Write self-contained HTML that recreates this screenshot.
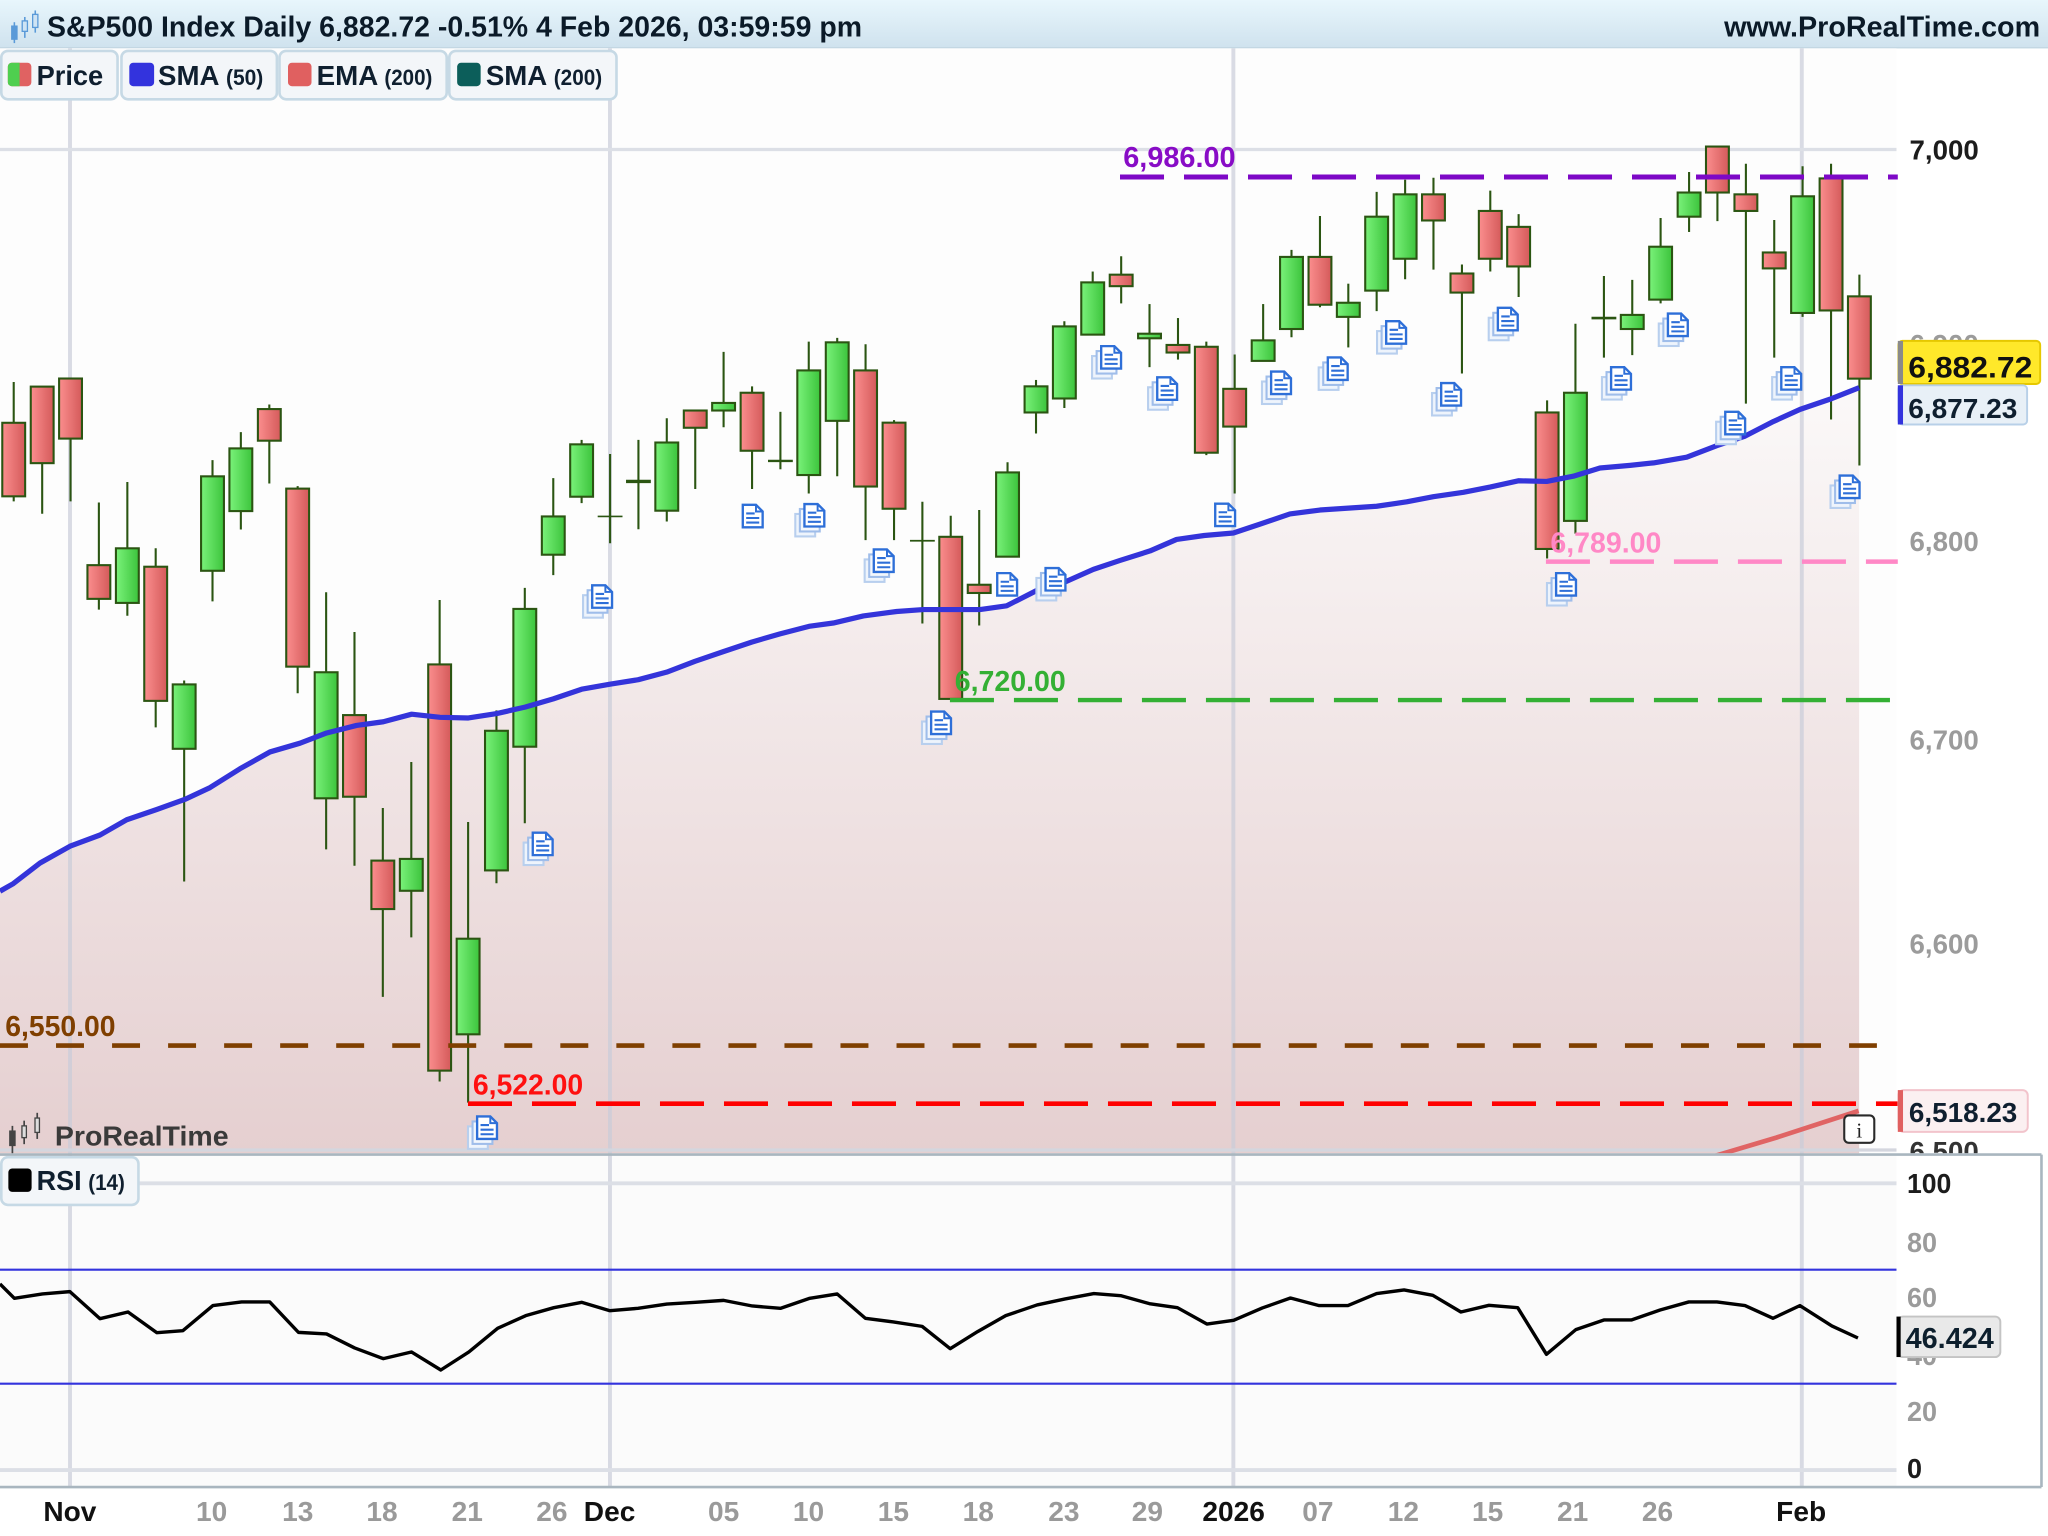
<!DOCTYPE html>
<html><head><meta charset="utf-8">
<style>
html,body{margin:0;padding:0;background:#fff;width:2048px;height:1536px;overflow:hidden}
svg{display:block}
text{font-family:"Liberation Sans",Arial,sans-serif;font-weight:bold}
.w{stroke:#2b5512;stroke-width:1.6}
.g{fill:url(#gg);stroke:#2b5512;stroke-width:1.6}
.r{fill:url(#gr);stroke:#2b5512;stroke-width:1.6}
.d{stroke:#2b5512;stroke-width:1.8}
.ax{font-size:21px;fill:#9b9b9b}
.axd{font-size:21px;fill:#1c1c1c}
.dt{font-size:21.5px;fill:#9a9a9a}
.dm{font-size:21.5px;fill:#111}
</style></head>
<body>
<svg width="2048" height="1536" viewBox="0 0 1568 1176" xmlns="http://www.w3.org/2000/svg">
<defs>
<linearGradient id="hdr" x1="0" y1="0" x2="0" y2="1"><stop offset="0" stop-color="#e8f6fc"/><stop offset="1" stop-color="#cfe2ee"/></linearGradient>
<linearGradient id="gg" x1="0" y1="0" x2="1" y2="0"><stop offset="0" stop-color="#7af27a"/><stop offset="1" stop-color="#3cc43c"/></linearGradient>
<linearGradient id="gr" x1="0" y1="0" x2="1" y2="0"><stop offset="0" stop-color="#fb8e8e"/><stop offset="1" stop-color="#d45a5a"/></linearGradient>
<linearGradient id="fillg" gradientUnits="userSpaceOnUse" x1="0" y1="290" x2="0" y2="883"><stop offset="0" stop-color="#fbf9f9"/><stop offset="1" stop-color="#e5cfd0"/></linearGradient>
<clipPath id="pc"><rect x="0" y="0" width="1568" height="883"/></clipPath>
<g id="doc1">
<path d="M0.9,0.9 H11 L16.1,6 V18.1 H0.9 Z" fill="#fff" stroke="#2e6fd8" stroke-width="1.8"/>
<path d="M11,0.9 V6 H16.1" fill="none" stroke="#2e6fd8" stroke-width="1.5"/>
<path d="M3.5,7.5 H10 M3.5,11 H13.5 M3.5,14.5 H13.5" stroke="#2e6fd8" stroke-width="1.6"/>
</g>
<g id="doc">
<rect x="-6.1" y="8.5" width="15.2" height="17.2" fill="#eef4fc" stroke="#b8cfee" stroke-width="1.6"/>
<rect x="-2.6" y="4.7" width="15.2" height="17.2" fill="#f2f7fd" stroke="#9fbdea" stroke-width="1.6"/>
<use href="#doc1"/>
</g>
</defs>

<rect x="0" y="0" width="1568" height="1176" fill="#fff"/>

<!-- header -->
<rect x="0" y="0" width="1568" height="37" fill="url(#hdr)"/>
<line x1="0" y1="36.5" x2="1568" y2="36.5" stroke="#c3d7e3" stroke-width="1"/>
<g fill="#5a9ad8" stroke="#5a9ad8">
<line x1="11" y1="17" x2="11" y2="33" stroke-width="1.2"/><rect x="9" y="20" width="4" height="10"/>
<line x1="19" y1="13" x2="19" y2="29" stroke-width="1.2"/><rect x="17" y="16" width="4" height="8" fill="#cfe4f4"/>
<line x1="27" y1="8" x2="27" y2="25" stroke-width="1.2"/><rect x="25" y="11" width="4" height="10" fill="#cfe4f4"/>
</g>
<text x="36" y="28" font-size="22" fill="#0b1a28" textLength="624" lengthAdjust="spacingAndGlyphs">S&amp;P500 Index Daily 6,882.72 -0.51% 4 Feb 2026, 03:59:59 pm</text>
<text x="1320" y="28" font-size="22" fill="#0b1a28" textLength="242" lengthAdjust="spacingAndGlyphs">www.ProRealTime.com</text>

<!-- price panel background -->
<rect x="0" y="37" width="1452" height="846" fill="#fdfdfd"/>
<!-- SMA fill -->
<polygon fill="url(#fillg)" points="0,682.3 10.2,676.5 30.6,660.8 53.6,647.9 76.6,639.3 97,627.6 120,619.8 141.6,612 160.8,603 183.7,588.6 206.7,575.7 229.7,569 250.1,561.2 273,555.4 293.5,552.6 315.2,546.8 336.9,549.2 358.6,549.7 380.3,546.3 402,541.4 423.6,535.1 445.3,527.7 467,523.8 488.7,520.4 510.4,514.6 532.1,506.3 553.8,498.9 575.5,491.6 597.2,485.3 620.1,479.4 638,477 661,471.6 686.5,468.2 706.9,466.7 727.3,466.7 750.3,466.7 770.7,463.8 793.7,452.1 814.1,446.2 837.1,435.9 857.5,429.1 880.5,421.8 900.8,413 922,410 944.3,408.1 964.7,401.3 987.6,393.5 1010.6,390.5 1054,387.6 1077,384.2 1097.4,380.3 1120.4,376.9 1140.8,372.9 1162.5,368.1 1184.2,368.6 1204.6,364.6 1225,358.3 1248,356.3 1266,354.4 1291.4,350 1314.4,341.2 1336.1,333.9 1357.8,322.7 1378.2,313.4 1401.2,305.6 1423.4,296.8 1423.4,883 0,883"/>

<!-- gridlines -->
<g stroke="#c9ccd8" stroke-opacity="0.7" stroke-width="3">
<line x1="53.6" y1="37" x2="53.6" y2="1138"/>
<line x1="467" y1="37" x2="467" y2="1138"/>
<line x1="944.3" y1="37" x2="944.3" y2="1138"/>
<line x1="1379.5" y1="37" x2="1379.5" y2="1138"/>
</g>
<line x1="0" y1="114.5" x2="1452" y2="114.5" stroke="#dcdfe6" stroke-width="2.5"/>
<line x1="0" y1="880.5" x2="1452" y2="880.5" stroke="#d4d6de" stroke-width="2.5"/>

<!-- candles -->
<g>
<line class="w" x1="10.5" y1="292.5" x2="10.5" y2="383.9"/><rect class="r" x="1.75" y="323.7" width="17.5" height="56.3"/>
<line class="w" x1="32.3" y1="296" x2="32.3" y2="393.3"/><rect class="r" x="23.55" y="296" width="17.5" height="58.6"/>
<line class="w" x1="54" y1="289.8" x2="54" y2="383.9"/><rect class="r" x="45.25" y="289.8" width="17.5" height="46"/>
<line class="w" x1="75.7" y1="384.7" x2="75.7" y2="466.7"/><rect class="r" x="66.95" y="432.7" width="17.5" height="25.8"/>
<line class="w" x1="97.5" y1="369" x2="97.5" y2="471.4"/><rect class="g" x="88.75" y="419.8" width="17.5" height="41.8"/>
<line class="w" x1="119.2" y1="419.8" x2="119.2" y2="556.9"/><rect class="r" x="110.45" y="433.9" width="17.5" height="102.7"/>
<line class="w" x1="141" y1="521" x2="141" y2="674.9"/><rect class="g" x="132.25" y="524" width="17.5" height="49.3"/>
<line class="w" x1="162.7" y1="352.3" x2="162.7" y2="460.4"/><rect class="g" x="153.95" y="364.7" width="17.5" height="72.3"/>
<line class="w" x1="184.4" y1="330.8" x2="184.4" y2="405.4"/><rect class="g" x="175.65" y="343.3" width="17.5" height="48"/>
<line class="w" x1="206.2" y1="309.7" x2="206.2" y2="370.2"/><rect class="r" x="197.45" y="313.2" width="17.5" height="24.2"/>
<line class="w" x1="227.9" y1="372.2" x2="227.9" y2="530.8"/><rect class="r" x="219.15" y="374.1" width="17.5" height="136.3"/>
<line class="w" x1="249.7" y1="453.4" x2="249.7" y2="650.3"/><rect class="g" x="240.95" y="514.7" width="17.5" height="96.5"/>
<line class="w" x1="271.4" y1="483.9" x2="271.4" y2="662.8"/><rect class="r" x="262.65" y="547.5" width="17.5" height="62.5"/>
<line class="w" x1="293.1" y1="618.6" x2="293.1" y2="763.2"/><rect class="r" x="284.35" y="658.9" width="17.5" height="37.1"/>
<line class="w" x1="314.9" y1="583.4" x2="314.9" y2="717.7"/><rect class="g" x="306.15" y="657.6" width="17.5" height="24.4"/>
<line class="w" x1="336.6" y1="459.4" x2="336.6" y2="828"/><rect class="r" x="327.85" y="508.7" width="17.5" height="311"/>
<line class="w" x1="358.4" y1="629.3" x2="358.4" y2="844.2"/><rect class="g" x="349.65" y="718.7" width="17.5" height="73.2"/>
<line class="w" x1="380.1" y1="543.9" x2="380.1" y2="676.2"/><rect class="g" x="371.35" y="559.5" width="17.5" height="106.9"/>
<line class="w" x1="401.8" y1="450.1" x2="401.8" y2="630.3"/><rect class="g" x="393.05" y="466.2" width="17.5" height="105.5"/>
<line class="w" x1="423.6" y1="366.1" x2="423.6" y2="440.3"/><rect class="g" x="414.85" y="395.4" width="17.5" height="29.3"/>
<line class="w" x1="445.3" y1="336.8" x2="445.3" y2="385.2"/><rect class="g" x="436.55" y="340.2" width="17.5" height="40.1"/>
<line class="w" x1="467.1" y1="347.6" x2="467.1" y2="415.9"/><line class="d" x1="457.6" y1="395.4" x2="476.6" y2="395.4" style="stroke-width:1.3"/>
<line class="w" x1="488.8" y1="336.8" x2="488.8" y2="405.2"/><line class="d" x1="479.3" y1="368.6" x2="498.3" y2="368.6" style="stroke-width:2.6"/>
<line class="w" x1="510.5" y1="320.2" x2="510.5" y2="399.3"/><rect class="g" x="501.75" y="338.8" width="17.5" height="52.2"/>
<line class="w" x1="532.3" y1="314.3" x2="532.3" y2="374.4"/><rect class="r" x="523.55" y="314.3" width="17.5" height="13.2"/>
<line class="w" x1="554" y1="269.4" x2="554" y2="327.1"/><rect class="g" x="545.25" y="308.5" width="17.5" height="5.8"/>
<line class="w" x1="575.8" y1="295.8" x2="575.8" y2="374.4"/><rect class="r" x="567.05" y="300.7" width="17.5" height="44.4"/>
<line class="w" x1="597.5" y1="315.3" x2="597.5" y2="359.3"/><line class="d" x1="588" y1="352.9" x2="607" y2="352.9" style="stroke-width:1.8"/>
<line class="w" x1="619.2" y1="261.6" x2="619.2" y2="377.8"/><rect class="g" x="610.45" y="283.6" width="17.5" height="80.1"/>
<line class="w" x1="641" y1="258.7" x2="641" y2="364.6"/><rect class="g" x="632.25" y="262.1" width="17.5" height="60.1"/>
<line class="w" x1="662.7" y1="263.6" x2="662.7" y2="413.5"/><rect class="r" x="653.95" y="283.6" width="17.5" height="88.9"/>
<line class="w" x1="684.5" y1="321.7" x2="684.5" y2="413.5"/><rect class="r" x="675.75" y="323.6" width="17.5" height="65.9"/>
<line class="w" x1="706.2" y1="384.2" x2="706.2" y2="477.4"/><line class="d" x1="696.7" y1="414" x2="715.7" y2="414" style="stroke-width:1.4"/>
<line class="w" x1="727.9" y1="394.9" x2="727.9" y2="535.1"/><rect class="r" x="719.15" y="411" width="17.5" height="124.1"/>
<line class="w" x1="749.7" y1="390.5" x2="749.7" y2="478.9"/><rect class="r" x="740.95" y="447.7" width="17.5" height="6.3"/>
<line class="w" x1="771.4" y1="353.9" x2="771.4" y2="426.2"/><rect class="g" x="762.65" y="361.7" width="17.5" height="64.5"/>
<line class="w" x1="793.2" y1="290.9" x2="793.2" y2="331.9"/><rect class="g" x="784.45" y="295.8" width="17.5" height="20"/>
<line class="w" x1="814.9" y1="246" x2="814.9" y2="312.4"/><rect class="g" x="806.15" y="249.9" width="17.5" height="55.2"/>
<line class="w" x1="836.6" y1="207.9" x2="836.6" y2="256.2"/><rect class="g" x="827.85" y="216.2" width="17.5" height="40"/>
<line class="w" x1="858.4" y1="196.2" x2="858.4" y2="232.3"/><rect class="r" x="849.65" y="210.3" width="17.5" height="8.8"/>
<line class="w" x1="880.1" y1="232.8" x2="880.1" y2="281.1"/><rect class="g" x="871.35" y="255.5" width="17.5" height="3.5"/>
<line class="w" x1="901.9" y1="243.5" x2="901.9" y2="275.3"/><rect class="r" x="893.15" y="264.1" width="17.5" height="5.8"/>
<line class="w" x1="923.6" y1="261.6" x2="923.6" y2="348.5"/><rect class="r" x="914.85" y="265.5" width="17.5" height="81.1"/>
<line class="w" x1="945.3" y1="271.4" x2="945.3" y2="377.8"/><rect class="r" x="936.55" y="297.7" width="17.5" height="28.9"/>
<line class="w" x1="967.1" y1="232.8" x2="967.1" y2="276.3"/><rect class="g" x="958.35" y="260.6" width="17.5" height="15.7"/>
<line class="w" x1="988.8" y1="191.3" x2="988.8" y2="258.2"/><rect class="g" x="980.05" y="196.7" width="17.5" height="55.2"/>
<line class="w" x1="1010.6" y1="165.4" x2="1010.6" y2="235.2"/><rect class="r" x="1001.85" y="196.7" width="17.5" height="36.6"/>
<line class="w" x1="1032.3" y1="217.2" x2="1032.3" y2="266"/><rect class="g" x="1023.55" y="231.8" width="17.5" height="10.8"/>
<line class="w" x1="1054" y1="146.9" x2="1054" y2="238.2"/><rect class="g" x="1045.25" y="165.9" width="17.5" height="56.6"/>
<line class="w" x1="1075.8" y1="137.6" x2="1075.8" y2="213.8"/><rect class="g" x="1067.05" y="148.8" width="17.5" height="49.3"/>
<line class="w" x1="1097.5" y1="136.1" x2="1097.5" y2="206.4"/><rect class="r" x="1088.75" y="148.8" width="17.5" height="20"/>
<line class="w" x1="1119.3" y1="202.5" x2="1119.3" y2="286"/><rect class="r" x="1110.55" y="209.4" width="17.5" height="14.6"/>
<line class="w" x1="1141" y1="145.9" x2="1141" y2="207.9"/><rect class="r" x="1132.25" y="161.5" width="17.5" height="36.6"/>
<line class="w" x1="1162.7" y1="163.9" x2="1162.7" y2="227.4"/><rect class="r" x="1153.95" y="173.7" width="17.5" height="30.3"/>
<line class="w" x1="1184.5" y1="306.5" x2="1184.5" y2="427.6"/><rect class="r" x="1175.75" y="315.8" width="17.5" height="104.5"/>
<line class="w" x1="1206.2" y1="247.9" x2="1206.2" y2="408.6"/><rect class="g" x="1197.45" y="300.7" width="17.5" height="98.1"/>
<line class="w" x1="1228" y1="211.3" x2="1228" y2="273.8"/><line class="d" x1="1218.5" y1="243.5" x2="1237.5" y2="243.5" style="stroke-width:2"/>
<line class="w" x1="1249.7" y1="214.3" x2="1249.7" y2="271.9"/><rect class="g" x="1240.95" y="241.1" width="17.5" height="10.8"/>
<line class="w" x1="1271.4" y1="166.9" x2="1271.4" y2="232.3"/><rect class="g" x="1262.65" y="188.9" width="17.5" height="40.5"/>
<line class="w" x1="1293.2" y1="131.7" x2="1293.2" y2="177.6"/><rect class="g" x="1284.45" y="147.4" width="17.5" height="18.5"/>
<line class="w" x1="1314.9" y1="112.2" x2="1314.9" y2="169.3"/><rect class="r" x="1306.15" y="112.2" width="17.5" height="35.2"/>
<line class="w" x1="1336.7" y1="125.4" x2="1336.7" y2="309"/><rect class="r" x="1327.95" y="148.8" width="17.5" height="12.7"/>
<line class="w" x1="1358.4" y1="168.4" x2="1358.4" y2="273.8"/><rect class="r" x="1349.65" y="193.3" width="17.5" height="12.2"/>
<line class="w" x1="1380.1" y1="127.3" x2="1380.1" y2="242.6"/><rect class="g" x="1371.35" y="150.3" width="17.5" height="89.3"/>
<line class="w" x1="1401.9" y1="125.4" x2="1401.9" y2="321.2"/><rect class="r" x="1393.15" y="136.6" width="17.5" height="101.1"/>
<line class="w" x1="1423.6" y1="210.3" x2="1423.6" y2="356.4"/><rect class="r" x="1414.85" y="226.9" width="17.5" height="63"/>
</g>

<!-- EMA 200 -->
<polyline clip-path="url(#pc)" points="1313,885 1360,871 1423,850.5" fill="none" stroke="#e06464" stroke-width="3.6"/>

<!-- SMA 50 line -->
<polyline fill="none" stroke="#3434da" stroke-width="4" stroke-linejoin="round" points="0,682.3 10.2,676.5 30.6,660.8 53.6,647.9 76.6,639.3 97,627.6 120,619.8 141.6,612 160.8,603 183.7,588.6 206.7,575.7 229.7,569 250.1,561.2 273,555.4 293.5,552.6 315.2,546.8 336.9,549.2 358.6,549.7 380.3,546.3 402,541.4 423.6,535.1 445.3,527.7 467,523.8 488.7,520.4 510.4,514.6 532.1,506.3 553.8,498.9 575.5,491.6 597.2,485.3 620.1,479.4 638,477 661,471.6 686.5,468.2 706.9,466.7 727.3,466.7 750.3,466.7 770.7,463.8 793.7,452.1 814.1,446.2 837.1,435.9 857.5,429.1 880.5,421.8 900.8,413 922,410 944.3,408.1 964.7,401.3 987.6,393.5 1010.6,390.5 1054,387.6 1077,384.2 1097.4,380.3 1120.4,376.9 1140.8,372.9 1162.5,368.1 1184.2,368.6 1204.6,364.6 1225,358.3 1248,356.3 1266,354.4 1291.4,350 1314.4,341.2 1336.1,333.9 1357.8,322.7 1378.2,313.4 1401.2,305.6 1423.4,296.8"/>

<!-- dashed horizontal levels -->
<line x1="0" y1="800.5" x2="1437" y2="800.5" stroke="#7f3f00" stroke-width="3.6" stroke-dasharray="21.4 21.5"/>
<line x1="358.3" y1="845" x2="1453" y2="845" stroke="#ff0000" stroke-width="3.6" stroke-dasharray="33.7 15.3"/>
<line x1="727.3" y1="536" x2="1447" y2="536" stroke="#34b034" stroke-width="3.4" stroke-dasharray="33.7 15.3"/>
<line x1="1183.6" y1="430" x2="1453" y2="430" stroke="#ff88c6" stroke-width="3.4" stroke-dasharray="33.7 15.3"/>
<line x1="857.5" y1="135.5" x2="1453" y2="135.5" stroke="#7d08c6" stroke-width="3.8" stroke-dasharray="33.7 15.3"/>

<text x="860" y="128" font-size="22" fill="#880cc6" textLength="86" lengthAdjust="spacingAndGlyphs">6,986.00</text>
<text x="1187" y="423" font-size="22" fill="#ff88c6" textLength="85" lengthAdjust="spacingAndGlyphs">6,789.00</text>
<text x="731" y="529" font-size="22" fill="#34b034" textLength="85" lengthAdjust="spacingAndGlyphs">6,720.00</text>
<text x="4" y="793" font-size="22" fill="#7f3f00" textLength="84.5" lengthAdjust="spacingAndGlyphs">6,550.00</text>
<text x="362" y="838" font-size="22" fill="#ff1010" textLength="84.5" lengthAdjust="spacingAndGlyphs">6,522.00</text>

<!-- note icons -->
<use href="#doc" x="452.5" y="447.2"/>
<use href="#doc" x="407" y="636.6"/>
<use href="#doc" x="364.4" y="853.9"/>
<use href="#doc1" x="567.8" y="385.6"/>
<use href="#doc" x="615" y="385"/>
<use href="#doc" x="668.1" y="419.8"/>
<use href="#doc" x="712" y="543.9"/>
<use href="#doc1" x="762.6" y="437.9"/>
<use href="#doc" x="799.6" y="434"/>
<use href="#doc" x="842.2" y="264.1"/>
<use href="#doc" x="885.1" y="288"/>
<use href="#doc1" x="929.5" y="384.7"/>
<use href="#doc" x="972.3" y="283.6"/>
<use href="#doc" x="1015.7" y="272.8"/>
<use href="#doc" x="1060.4" y="245"/>
<use href="#doc" x="1102.5" y="292.4"/>
<use href="#doc" x="1145.9" y="234.8"/>
<use href="#doc" x="1190.5" y="437.9"/>
<use href="#doc" x="1232.6" y="280.2"/>
<use href="#doc" x="1276.1" y="239.2"/>
<use href="#doc" x="1320" y="314.4"/>
<use href="#doc" x="1362.9" y="280.2"/>
<use href="#doc" x="1407.6" y="363.2"/>

<!-- info box -->
<rect x="1412" y="854" width="23" height="21" rx="3.5" fill="#fff" stroke="#2a2a2a" stroke-width="1.6"/>
<text x="1423.5" y="871" font-size="16" fill="#222" text-anchor="middle" style="font-family:'Liberation Serif',serif;font-weight:normal">i</text>

<!-- watermark -->
<g fill="#444" stroke="#444">
<line x1="9.5" y1="862" x2="9.5" y2="883" stroke-width="1.3"/><rect x="7.5" y="866" width="4" height="11"/>
<line x1="18.5" y1="858" x2="18.5" y2="876" stroke-width="1.3"/><rect x="16.8" y="862" width="3.4" height="9" fill="#ddd"/>
<line x1="28.5" y1="852" x2="28.5" y2="872" stroke-width="1.3"/><rect x="26.8" y="856" width="3.4" height="11" fill="#ddd"/>
</g>
<text x="42" y="877" font-size="21" fill="#3a3a3a" textLength="133" lengthAdjust="spacingAndGlyphs">ProRealTime</text>

<!-- legend -->
<g stroke="#c6d9e5" stroke-width="2" fill="#f3f6f9">
<rect x="1" y="39" width="89" height="37" rx="5"/>
<rect x="93" y="39" width="119" height="37" rx="5"/>
<rect x="214" y="39" width="128" height="37" rx="5"/>
<rect x="344" y="39" width="128" height="37" rx="5"/>
</g>
<rect x="6" y="48" width="18" height="18" rx="3" fill="#e06262"/>
<path d="M9,48 H15 V66 H9 A3,3 0 0 1 6,63 V51 A3,3 0 0 1 9,48 Z" fill="#4fcf4f"/>
<rect x="99" y="48" width="19" height="18" rx="3" fill="#3333dd"/>
<rect x="220.5" y="48" width="18" height="18" rx="3" fill="#e06060"/>
<rect x="350" y="48" width="18" height="18" rx="3" fill="#0c5e5a"/>
<g fill="#0f1f2f">
<text x="28" y="65" font-size="21" textLength="51" lengthAdjust="spacingAndGlyphs">Price</text>
<text x="121" y="65" font-size="21" textLength="47" lengthAdjust="spacingAndGlyphs">SMA</text>
<text x="173" y="65" font-size="17" textLength="28.6" lengthAdjust="spacingAndGlyphs">(50)</text>
<text x="242.4" y="65" font-size="21" textLength="47.2" lengthAdjust="spacingAndGlyphs">EMA</text>
<text x="294.3" y="65" font-size="17" textLength="36.7" lengthAdjust="spacingAndGlyphs">(200)</text>
<text x="372" y="65" font-size="21" textLength="47" lengthAdjust="spacingAndGlyphs">SMA</text>
<text x="424" y="65" font-size="17" textLength="37" lengthAdjust="spacingAndGlyphs">(200)</text>
</g>

<!-- right price axis -->
<text class="axd" x="1462" y="122" textLength="53" lengthAdjust="spacingAndGlyphs">7,000</text>
<text class="ax" x="1462" y="271" textLength="53" lengthAdjust="spacingAndGlyphs">6,900</text>
<text class="ax" x="1462" y="422" textLength="53" lengthAdjust="spacingAndGlyphs">6,800</text>
<text class="ax" x="1462" y="574" textLength="53" lengthAdjust="spacingAndGlyphs">6,700</text>
<text class="ax" x="1462" y="730" textLength="53" lengthAdjust="spacingAndGlyphs">6,600</text>
<text class="axd" x="1462" y="889" textLength="53" lengthAdjust="spacingAndGlyphs" clip-path="url(#pc)" style="fill:#333">6,500</text>

<rect x="1453.5" y="261" width="108.5" height="33" rx="3" fill="#ffe82a" stroke="#e6c800" stroke-width="1.5"/>
<rect x="1453" y="261" width="4" height="33" fill="#8a8a8a"/>
<text x="1461" y="289" font-size="23" fill="#111" textLength="95" lengthAdjust="spacingAndGlyphs">6,882.72</text>

<rect x="1453.5" y="295" width="98.5" height="30" rx="3" fill="#e8f0f7" stroke="#b8d0e8" stroke-width="1.5"/>
<rect x="1453" y="295" width="4" height="30" fill="#3333dd"/>
<text x="1461" y="320" font-size="21" fill="#0f1f2f" textLength="83.5" lengthAdjust="spacingAndGlyphs">6,877.23</text>

<rect x="1453.5" y="834.6" width="99" height="32" rx="4" fill="#fbf0f1" stroke="#f2c4cc" stroke-width="1.5"/>
<rect x="1453" y="834.6" width="4" height="32" fill="#e06060"/>
<text x="1461.5" y="859" font-size="21" fill="#0f1f2f" textLength="83" lengthAdjust="spacingAndGlyphs">6,518.23</text>

<!-- RSI panel -->
<rect x="0" y="885" width="1452" height="253" fill="#fbfbfb"/>
<g stroke="#c9ccd8" stroke-opacity="0.7" stroke-width="3">
<line x1="53.6" y1="885" x2="53.6" y2="1138"/>
<line x1="467" y1="885" x2="467" y2="1138"/>
<line x1="944.3" y1="885" x2="944.3" y2="1138"/>
<line x1="1379.5" y1="885" x2="1379.5" y2="1138"/>
</g>
<line x1="0" y1="906" x2="1452" y2="906" stroke="#dcdfe6" stroke-width="3"/>
<line x1="0" y1="1125.5" x2="1452" y2="1125.5" stroke="#dcdfe6" stroke-width="3"/>
<line x1="0" y1="972.1" x2="1452" y2="972.1" stroke="#3333dd" stroke-width="1.6"/>
<line x1="0" y1="1059.4" x2="1452" y2="1059.4" stroke="#3333dd" stroke-width="1.6"/>
<polyline fill="none" stroke="#000" stroke-width="2.6" stroke-linejoin="round" points="0,983 11,994 32.5,990.7 53.5,988.9 76.5,1009.6 98,1004.5 120,1020.3 140,1018.8 163,999.6 185,996.8 206.5,996.8 228.5,1020.1 250,1021.3 271.5,1032 293.5,1040.2 315,1035.1 337.5,1048.9 359,1035.1 381,1017 402.5,1007.3 424,1001.2 445.5,997.1 467,1003.5 488.5,1001.7 510.5,998.4 532.5,997.1 554,995.6 576,999.9 597.5,1001.7 620,994 641,990.7 662.5,1009.3 684,1012.1 706,1015.5 727.5,1032.6 748.5,1019.5 770,1007.3 794,999.1 815.5,994.5 837.5,990.4 858,992 880,998.1 901.5,1001.2 924,1013.7 944.5,1010.9 966.5,1001.4 988,993.8 1010,999.6 1032,999.6 1054,990.4 1075,987.6 1097,991.7 1118.5,1004.5 1140,999.4 1162,1001.2 1184,1036.9 1206.5,1018 1228,1010.6 1249,1010.6 1271,1003 1293,996.8 1314.5,996.8 1336,999.6 1357.5,1009.3 1378,999.6 1402.5,1015.2 1422.5,1024.4"/>

<!-- RSI legend -->
<rect x="1" y="886" width="105" height="36.5" rx="5" fill="#f3f6f9" stroke="#c6d9e5" stroke-width="2"/>
<rect x="6.4" y="894.6" width="17.8" height="17.9" rx="3" fill="#000"/>
<text x="28" y="911" font-size="21" fill="#0f1f2f" textLength="34.5" lengthAdjust="spacingAndGlyphs">RSI</text>
<text x="67.6" y="911" font-size="17" fill="#0f1f2f" textLength="28" lengthAdjust="spacingAndGlyphs">(14)</text>

<!-- RSI axis -->
<text class="axd" x="1460" y="913.5" textLength="34" lengthAdjust="spacingAndGlyphs">100</text>
<text class="ax" x="1460" y="958.5" textLength="23" lengthAdjust="spacingAndGlyphs">80</text>
<text class="ax" x="1460" y="1000.5" textLength="23" lengthAdjust="spacingAndGlyphs">60</text>
<text class="ax" x="1460" y="1045" textLength="23" lengthAdjust="spacingAndGlyphs">40</text>
<text class="ax" x="1460" y="1088" textLength="23" lengthAdjust="spacingAndGlyphs">20</text>
<text class="axd" x="1460" y="1131.5" textLength="11.5" lengthAdjust="spacingAndGlyphs">0</text>

<rect x="1453" y="1008" width="78.5" height="31" rx="4" fill="#e9e9e9" stroke="#c4c4c4" stroke-width="1.5"/>
<rect x="1452" y="1008" width="3.2" height="31" fill="#000"/>
<text x="1459" y="1032" font-size="22" fill="#0d1f2d" textLength="67.5" lengthAdjust="spacingAndGlyphs">46.424</text>

<!-- panel borders -->
<line x1="0" y1="884" x2="1563" y2="884" stroke="#a9b6bf" stroke-width="2"/>
<line x1="0" y1="1138.5" x2="1563" y2="1138.5" stroke="#a9b6bf" stroke-width="2"/>
<line x1="1563" y1="884" x2="1563" y2="1138.5" stroke="#a9b6bf" stroke-width="2"/>

<!-- date axis -->
<g text-anchor="middle">
<text class="dm" x="53.5" y="1164.5">Nov</text>
<text class="dt" x="162" y="1164.5">10</text>
<text class="dt" x="228" y="1164.5">13</text>
<text class="dt" x="292.5" y="1164.5">18</text>
<text class="dt" x="357.7" y="1164.5">21</text>
<text class="dt" x="422.5" y="1164.5">26</text>
<text class="dm" x="466.7" y="1164.5">Dec</text>
<text class="dt" x="554" y="1164.5">05</text>
<text class="dt" x="619" y="1164.5">10</text>
<text class="dt" x="684" y="1164.5">15</text>
<text class="dt" x="749" y="1164.5">18</text>
<text class="dt" x="814.5" y="1164.5">23</text>
<text class="dt" x="878.5" y="1164.5">29</text>
<text class="dm" x="944.5" y="1164.5">2026</text>
<text class="dt" x="1009" y="1164.5">07</text>
<text class="dt" x="1074.5" y="1164.5">12</text>
<text class="dt" x="1139" y="1164.5">15</text>
<text class="dt" x="1204" y="1164.5">21</text>
<text class="dt" x="1269" y="1164.5">26</text>
<text class="dm" x="1379" y="1164.5">Feb</text>
</g>
</svg>
</body></html>
